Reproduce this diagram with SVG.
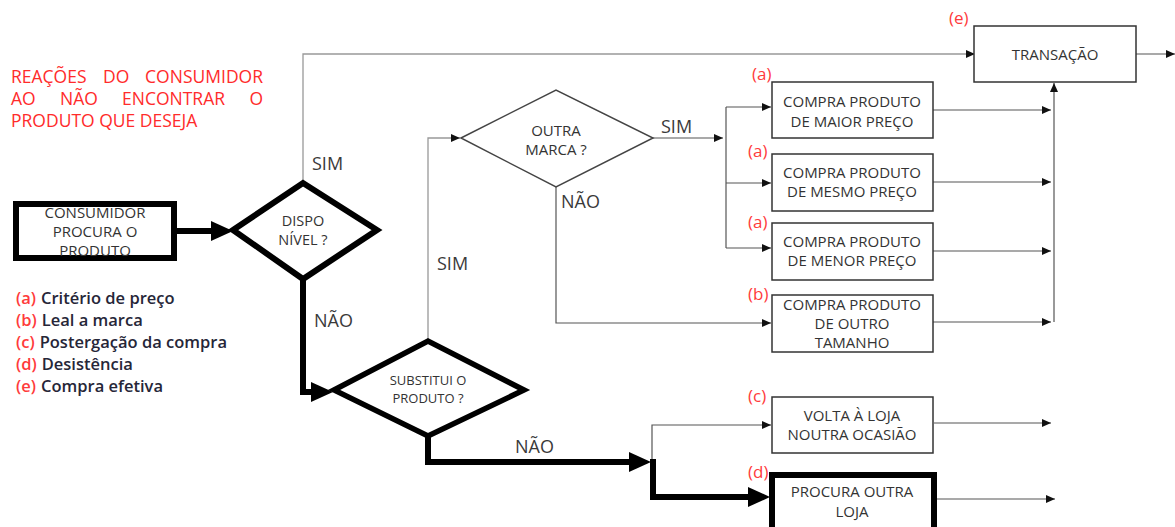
<svg xmlns="http://www.w3.org/2000/svg" width="1175" height="527" viewBox="0 0 1175 527">
<style>
text{font-family:"Open Sans","Liberation Sans",sans-serif;}
.title{fill:#ff2b2b;font-size:17.5px;}
.red{fill:#ff3b3b;font-size:17px;}
.lr{fill:#ff3b3b;font-size:16.5px;font-weight:600;}
.leg{fill:#262638;font-size:16.5px;font-weight:600;}
.lbl{fill:#3a3a3a;font-size:18px;}
.bt{fill:#333;font-size:15px;text-anchor:middle;}
.box{fill:#fff;stroke:#333;stroke-width:1.5;}
.boxb{fill:#fff;stroke:#000;stroke-width:6;}
.thin{fill:none;stroke:#555;stroke-width:1.2;}
.thick{fill:none;stroke:#000;stroke-width:6;}
</style>
<defs>
<marker id="ah" markerUnits="userSpaceOnUse" markerWidth="9" markerHeight="8" refX="9" refY="4" orient="auto" viewBox="0 0 9 8"><path d="M0,0 L9,4 L0,8 z" fill="#111"/></marker>
<marker id="ahb" markerUnits="userSpaceOnUse" markerWidth="22" markerHeight="20" refX="0" refY="10" orient="auto" viewBox="0 0 22 20"><path d="M0,0 L22,10 L0,20 z" fill="#000"/></marker>
</defs>
<rect width="1175" height="527" fill="#fff"/>

<g id="title" class="title">
<text x="11" y="83">REAÇÕES</text>
<text x="103" y="83">DO</text>
<text x="263" y="83" text-anchor="end">CONSUMIDOR</text>
<text x="11" y="105">AO</text>
<text x="60" y="105">NÃO</text>
<text x="122" y="105">ENCONTRAR</text>
<text x="263" y="105" text-anchor="end">O</text>
<text x="11" y="127">PRODUTO QUE DESEJA</text>
</g>

<g id="legend">
<text x="16" y="304"><tspan class="lr">(a)</tspan><tspan class="leg" dx="5">Critério de preço</tspan></text>
<text x="16" y="326"><tspan class="lr">(b)</tspan><tspan class="leg" dx="5">Leal a marca</tspan></text>
<text x="16" y="348"><tspan class="lr">(c)</tspan><tspan class="leg" dx="5">Postergação da compra</tspan></text>
<text x="16" y="370"><tspan class="lr">(d)</tspan><tspan class="leg" dx="5">Desistência</tspan></text>
<text x="16" y="392"><tspan class="lr">(e)</tspan><tspan class="leg" dx="5">Compra efetiva</tspan></text>
</g>

<g id="connectors">
<path class="thick" d="M177,231 H211" marker-end="url(#ahb)"/>
<path d="M303,182 V54 H975" fill="none" stroke="#999" stroke-width="1.3" marker-end="url(#ah)"/>
<path class="thick" d="M303,280 V392 H311" marker-end="url(#ahb)"/>
<path d="M428,340 V138 H460" fill="none" stroke="#999" stroke-width="1.3" marker-end="url(#ah)"/>
<path class="thick" d="M428,437 V462 H629" marker-end="url(#ahb)"/>
<path class="thin" d="M652,462 V425 H771" marker-end="url(#ah)"/>
<path class="thick" d="M653,459 V497 H748" marker-end="url(#ahb)"/>
<path class="thin" d="M653,138 H723" marker-end="url(#ah)"/>
<path class="thin" d="M726,107 V248"/>
<path class="thin" d="M726,107 H771" marker-end="url(#ah)"/>
<path class="thin" d="M726,183 H771" marker-end="url(#ah)"/>
<path class="thin" d="M726,248 H771" marker-end="url(#ah)"/>
<path class="thin" d="M556,187 V323 H771" marker-end="url(#ah)"/>
<path class="thin" d="M933,110 H1051" marker-end="url(#ah)"/>
<path class="thin" d="M933,182 H1051" marker-end="url(#ah)"/>
<path class="thin" d="M933,251 H1051" marker-end="url(#ah)"/>
<path class="thin" d="M933,322 H1051" marker-end="url(#ah)"/>
<path class="thin" d="M1054,322 V83" marker-end="url(#ah)"/>
<path class="thin" d="M1136,54 H1175" marker-end="url(#ah)"/>
<path class="thin" d="M934,423 H1051" marker-end="url(#ah)"/>
<path class="thin" d="M937,499 H1055" marker-end="url(#ah)"/>
<text class="lbl" x="312" y="170">SIM</text>
<text class="lbl" x="314" y="327">NÃO</text>
<text class="lbl" x="437" y="270">SIM</text>
<text class="lbl" x="515" y="453">NÃO</text>
<text class="lbl" x="661" y="133">SIM</text>
<text class="lbl" x="561" y="208">NÃO</text>
</g>

<g id="consumidor">
<rect class="boxb" x="16" y="204" width="158" height="54"/>
<text class="bt" x="95" y="218">CONSUMIDOR</text>
<text class="bt" x="95" y="237">PROCURA O</text>
<text class="bt" x="95" y="256">PRODUTO</text>
</g>

<g id="disponivel">
<polygon points="233,230 303,183 377,230 303,279" fill="#fff" stroke="#000" stroke-width="6" stroke-linejoin="miter"/>
<text class="bt" x="303" y="226" style="font-size:14.5px">DISPO</text>
<text class="bt" x="303" y="245" style="font-size:14.5px">NÍVEL ?</text>
</g>

<g id="substitui">
<polygon points="334,390 428,341 524,390 428,436" fill="#fff" stroke="#000" stroke-width="5.5"/>
<text class="bt" x="428" y="385" style="font-size:13px">SUBSTITUI O</text>
<text class="bt" x="428" y="403" style="font-size:13px">PRODUTO ?</text>
</g>

<g id="outra-marca">
<polygon points="461,138 556,90 653,138 556,187" fill="#fff" stroke="#444" stroke-width="1.5"/>
<text class="bt" x="556" y="136">OUTRA</text>
<text class="bt" x="556" y="155">MARCA ?</text>
</g>

<g id="transacao">
<rect class="box" x="974" y="26" width="162" height="56"/>
<text class="bt" x="1055" y="60">TRANSAÇÃO</text>
<text class="red" x="949" y="24">(e)</text>
</g>

<g id="maior-preco">
<rect class="box" x="772" y="82" width="161" height="56"/>
<text class="bt" x="852" y="107">COMPRA PRODUTO</text>
<text class="bt" x="852" y="127">DE MAIOR PREÇO</text>
<text class="red" x="752" y="80">(a)</text>
</g>

<g id="mesmo-preco">
<rect class="box" x="772" y="154" width="161" height="57"/>
<text class="bt" x="852" y="178">COMPRA PRODUTO</text>
<text class="bt" x="852" y="197">DE MESMO PREÇO</text>
<text class="red" x="748" y="157">(a)</text>
</g>

<g id="menor-preco">
<rect class="box" x="772" y="223" width="161" height="57"/>
<text class="bt" x="852" y="247">COMPRA PRODUTO</text>
<text class="bt" x="852" y="266">DE MENOR PREÇO</text>
<text class="red" x="748" y="228">(a)</text>
</g>

<g id="outro-tamanho">
<rect class="box" x="772" y="295" width="161" height="57"/>
<text class="bt" x="852" y="310">COMPRA PRODUTO</text>
<text class="bt" x="852" y="329">DE OUTRO</text>
<text class="bt" x="852" y="348">TAMANHO</text>
<text class="red" x="748" y="300">(b)</text>
</g>

<g id="volta-loja">
<rect class="box" x="772" y="397" width="161" height="56"/>
<text class="bt" x="852" y="421">VOLTA À LOJA</text>
<text class="bt" x="852" y="440">NOUTRA OCASIÃO</text>
<text class="red" x="748" y="402">(c)</text>
</g>

<g id="outra-loja">
<rect class="boxb" x="772" y="475" width="162" height="60"/>
<text class="bt" x="852" y="497">PROCURA OUTRA</text>
<text class="bt" x="852" y="517">LOJA</text>
<text class="red" x="748" y="478">(d)</text>
</g>
</svg>
